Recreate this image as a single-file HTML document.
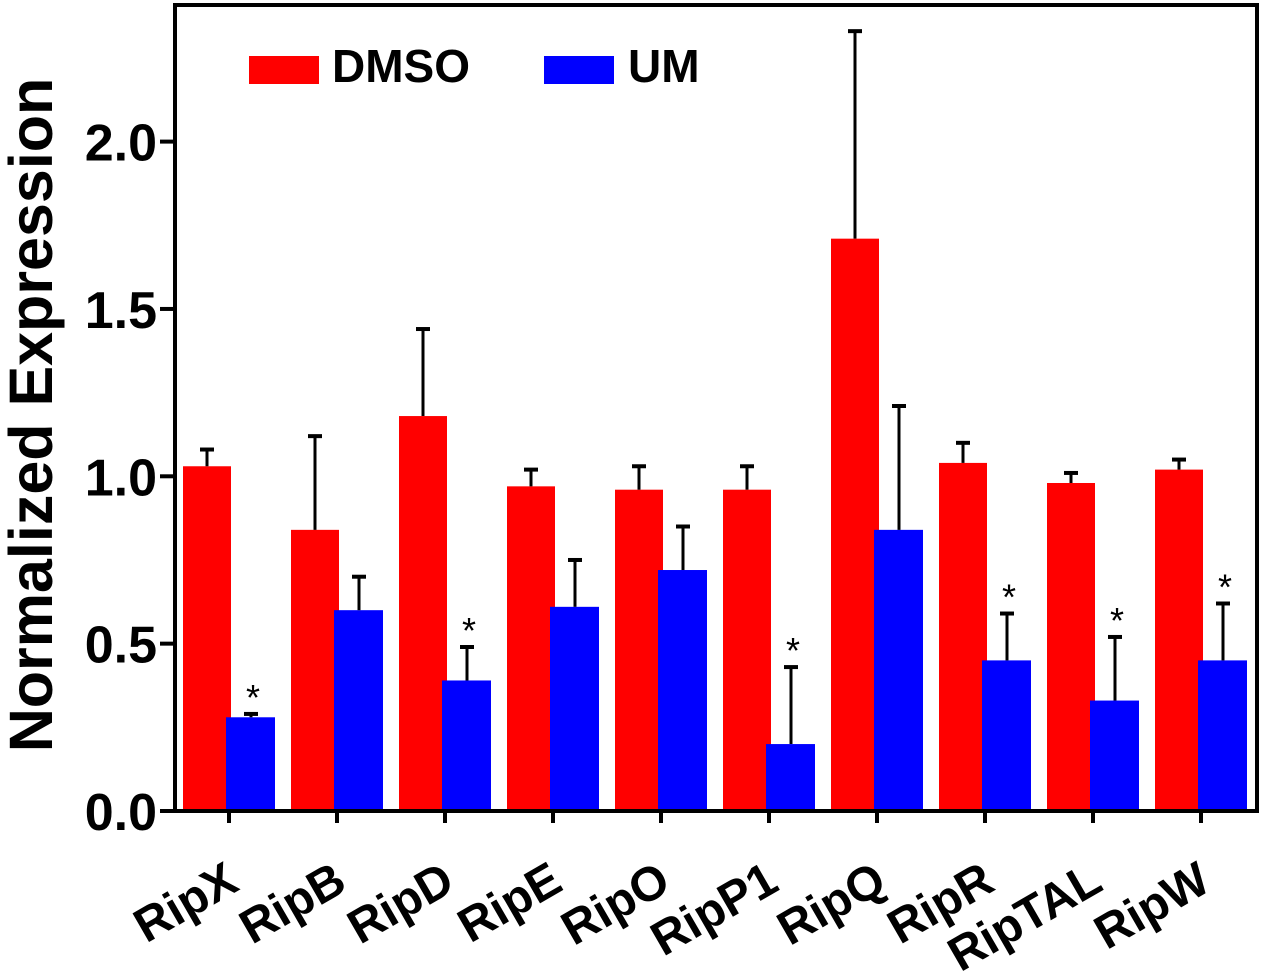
<!DOCTYPE html>
<html><head><meta charset="utf-8"><style>
html,body{margin:0;padding:0;background:#fff;}
svg{display:block;font-family:"Liberation Sans",Arial,sans-serif;}
</style></head><body>
<svg id="chart" width="1266" height="972" viewBox="0 0 1266 972" xmlns="http://www.w3.org/2000/svg">
<g id="marks"></g>
<g id="axes"></g>
<rect x="249" y="56" width="70" height="28" fill="#ff0000"/>
<text x="332" y="82" font-size="46" font-weight="bold">DMSO</text>
<rect x="544" y="56" width="70" height="28" fill="#0000ff"/>
<text x="628" y="82" font-size="46" font-weight="bold">UM</text>
<text transform="translate(52,415) rotate(-90)" text-anchor="middle" font-size="61" font-weight="bold">Normalized Expression</text>
</svg>
<script>
const categories = ["RipX","RipB","RipD","RipE","RipO","RipP1","RipQ","RipR","RipTAL","RipW"];
const dmso = [1.03,0.84,1.18,0.97,0.96,0.96,1.71,1.04,0.98,1.02];
const dmsoErr = [0.05,0.28,0.26,0.05,0.07,0.07,0.62,0.06,0.03,0.03];
const um = [0.28,0.60,0.39,0.61,0.72,0.20,0.84,0.45,0.33,0.45];
const umErr = [0.01,0.10,0.10,0.14,0.13,0.23,0.37,0.14,0.19,0.17];
const significant = [true,false,true,false,false,true,false,true,true,true];
const yTicks = [0.0,0.5,1.0,1.5,2.0];
const yTickLabels = ["0.0","0.5","1.0","1.5","2.0"];

const NS="http://www.w3.org/2000/svg";
const X0=175, X1=1257, Y0=811, YT=5;
const y = v => Y0 - v*334.7;
const x = i => 229 + i*108;
const marks=document.getElementById('marks'), axes=document.getElementById('axes');
function mk(tag, attrs, parent){const e=document.createElementNS(NS,tag);for(const k in attrs)e.setAttribute(k,attrs[k]);parent.appendChild(e);return e;}
function err(cx, v, e, parent){
  const g=mk('g',{},parent);
  
  
  mk('line',{x1:cx,x2:cx,y1:y(v),y2:y(v+e),stroke:'#000','stroke-width':3},g);
  mk('line',{x1:cx-7,x2:cx+7,y1:y(v+e),y2:y(v+e),stroke:'#000','stroke-width':4},g);
}
categories.forEach((c,i)=>{
  const cx=x(i);
  const r=mk('rect',{x:cx-46,y:y(dmso[i]),width:48,height:Y0-y(dmso[i]),fill:'#ff0000'},marks);
  
  
  err(cx-22,dmso[i],dmsoErr[i],marks);
  const b=mk('rect',{x:cx-3,y:y(um[i]),width:49,height:Y0-y(um[i]),fill:'#0000ff'},marks);
  
  
  err(cx+22,um[i],umErr[i],marks);
  if(significant[i]){
    const s=mk('text',{x:cx+24,y:y(um[i]+umErr[i])-4,'text-anchor':'middle','font-size':36},marks);
    
    
    s.textContent='*';
  }
  const t=mk('line',{x1:cx,x2:cx,y1:Y0,y2:Y0+12,stroke:'#000','stroke-width':4},axes);
  
  
  const l=mk('text',{transform:`translate(${cx+12},${Y0+78}) rotate(-30)`,'text-anchor':'end','font-size':48,'font-weight':'bold'},axes);
  
  
  l.textContent=c;
});
yTicks.forEach((v,i)=>{
  const t=mk('line',{x1:X0-15,x2:X0,y1:y(v),y2:y(v),stroke:'#000','stroke-width':4},axes);
  
  
  const l=mk('text',{x:X0-18,y:y(v)+19,'text-anchor':'end','font-size':52,'font-weight':'bold'},axes);
  
  
  l.textContent=yTickLabels[i];
});
const f=mk('path',{d:`M${X0},${Y0} L${X0},${YT} L${X1},${YT} L${X1},${Y0} Z`,fill:'none',stroke:'#000','stroke-width':4},axes);


</script>
</body></html>
